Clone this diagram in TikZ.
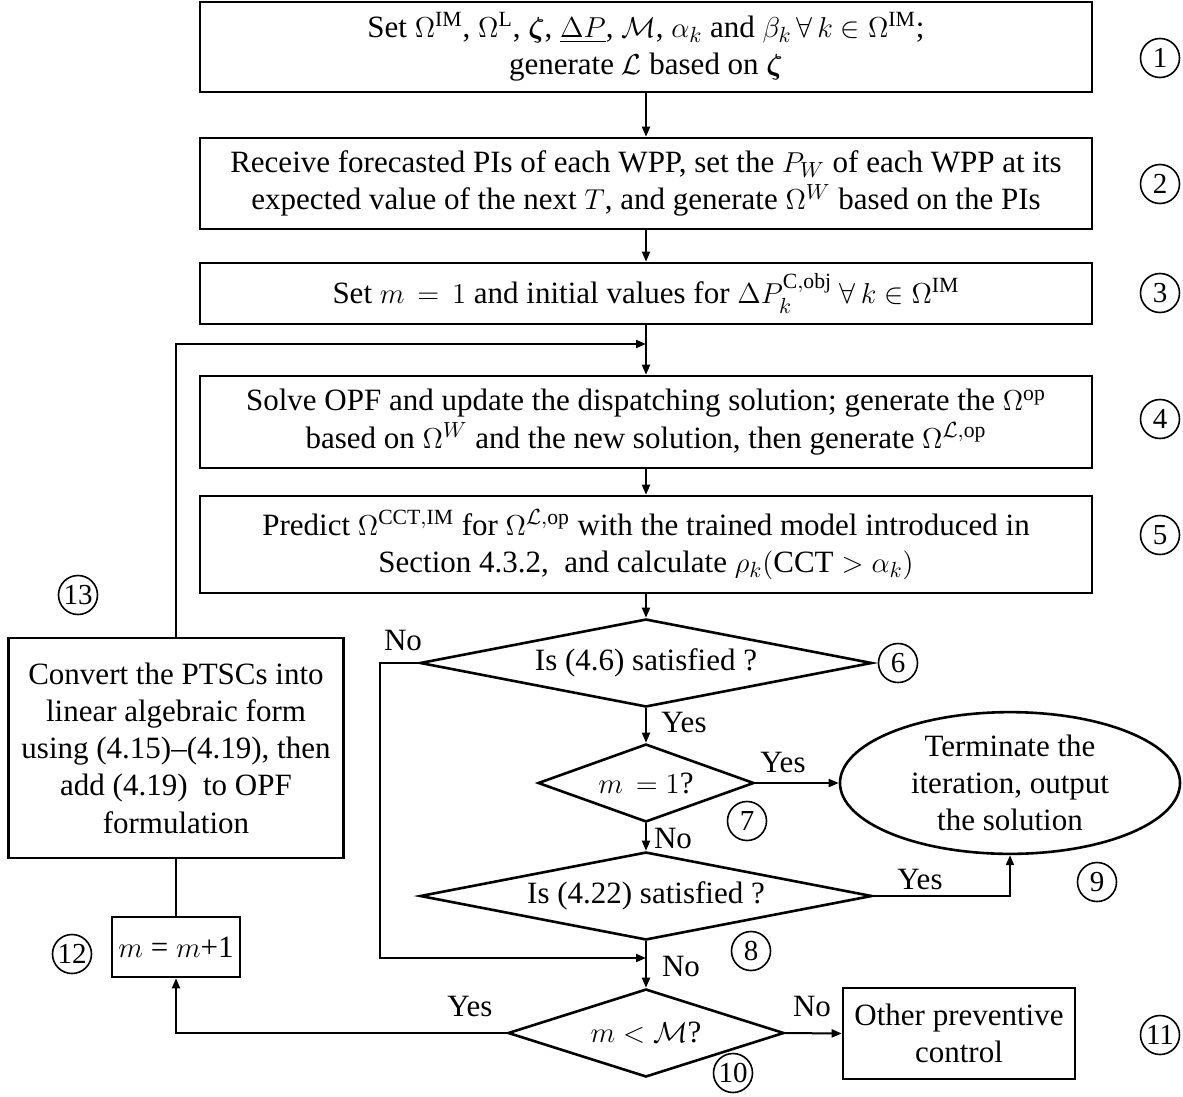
\documentclass[tikz,border=0pt]{standalone}
\usepackage{amsmath,amssymb,bm}
\usepackage{fontspec}
\setmainfont{Liberation Serif}
\usetikzlibrary{shapes.geometric,arrows.meta}

\begin{document}
\begin{tikzpicture}[x=0.5pt,y=0.5pt,
  font=\fontsize{15.5}{18.6}\selectfont,
  stepbox/.style={draw, line width=1.3pt, rectangle, align=center, inner sep=2pt},
  decision/.style={draw, line width=1.3pt, diamond, align=center, inner sep=1pt},
  endnode/.style={draw, line width=1.3pt, ellipse, align=center, inner sep=1pt},
  num/.style={draw, circle, line width=0.8pt, inner sep=0pt, minimum size=19.5pt,
    font=\fontsize{14.5}{14.5}\selectfont},
  flow/.style={line width=1pt, -{Triangle[length=5pt,width=4pt]}},
  link/.style={line width=1pt},
  lbl/.style={inner sep=0pt}
]
\useasboundingbox (0,0) rectangle (1183,-1097);

% main column of steps
\node[stepbox, minimum width=446pt, minimum height=45pt] (b1) at (646,-47)
  {Set $\Omega^{\mathrm{IM}}$, $\Omega^{\mathrm{L}}$, $\bm{\zeta}$, $\underline{\Delta P}$, $\mathcal{M}$, $\alpha_k$ and $\beta_k\,\forall\, k\in\Omega^{\mathrm{IM}}$;\\
   generate $\mathcal{L}$ based on $\bm{\zeta}$};
\node[stepbox, minimum width=446pt, minimum height=45.5pt] (b2) at (646,-183.5)
  {Receive forecasted PIs of each WPP, set the $P_W$ of each WPP at its\\
   expected value of the next $T$, and generate $\Omega^{W}$ based on the PIs};
\node[stepbox, minimum width=446pt, minimum height=30.5pt] (b3) at (646,-293.5)
  {Set $m\,=\,1$ and initial values for $\Delta P_k^{\mathrm{C,obj}}\ \forall\, k\in\Omega^{\mathrm{IM}}$};
\node[stepbox, minimum width=446pt, minimum height=46pt] (b4) at (646,-422)
  {Solve OPF and update the dispatching solution; generate the $\Omega^{\mathrm{op}}$\\
   based on $\Omega^{W}$ and the new solution, then generate $\Omega^{\mathcal{L},\mathrm{op}}$};
\node[stepbox, minimum width=446pt, minimum height=48.5pt] (b5) at (646,-544.5)
  {Predict $\Omega^{\mathrm{CCT,IM}}$ for $\Omega^{\mathcal{L},\mathrm{op}}$ with the trained model introduced in\\
   Section 4.3.2,\ \ and calculate $\rho_k(\mathrm{CCT}>\alpha_k)$};

% decisions
\node[decision, aspect=5.2, minimum width=226pt, minimum height=44pt] (d6) at (646,-663) {Is (4.6) satisfied ?};
\node[decision, aspect=2.8, minimum width=108pt, minimum height=39pt] (d7) at (646,-783) {$m\,=1$?};
\node[decision, aspect=5.1, minimum width=226pt, minimum height=44pt] (d8) at (646,-896) {Is (4.22) satisfied ?};
\node[decision, aspect=3.1, minimum width=138pt, minimum height=44pt] (d10) at (646,-1033) {$m<\mathcal{M}$?};

% end states
\node[endnode, minimum width=170pt, minimum height=70pt] (e9) at (1010,-783)
  {Terminate the\\iteration, output\\the solution};
\node[stepbox, minimum width=116pt, minimum height=45.5pt] (b11) at (959,-1033.5)
  {Other preventive\\control};

% feedback branch
\node[stepbox, minimum width=64pt, minimum height=30pt] (b12) at (176,-947) {$m$ = $m$+1};
\node[stepbox, minimum width=167.5pt, minimum height=110pt] (b13) at (176,-748)
  {Convert the PTSCs into\\linear algebraic form\\using (4.15)--(4.19), then\\add (4.19)\ \ to OPF\\formulation};

% junctions
\coordinate (J) at (646,-344);
\coordinate (K) at (646,-958);
\coordinate (nofork) at (380,-663);

% connectors
\draw[flow] (b1.south) -- (b2.north);
\draw[flow] (b2.south) -- (b3.north);
\draw[flow] (b3.south) -- (b4.north);
\draw[flow] (b13.north) |- (J);
\draw[flow] (b4.south) -- (b5.north);
\draw[flow] (b5.south) -- (d6.north);
\draw[flow] (d6.south) -- (d7.north);
\draw[flow] (d7.east) -- (e9.west);
\draw[flow] (d7.south) -- (d8.north);
\draw[flow] (d8.east) -| (e9.south);
\draw[flow] (d6.west) -- (nofork) |- (K);
\draw[flow] (d8.south) -- (d10.north);
\draw[flow] (d10.west) -| (b12.south);
\draw[flow] (d10.east) -- (b11.west);
\draw[link] (b12.north) -- (b13.south);

% branch labels
\node[lbl] (tNo1) at (403,-640) {No};
\node[lbl] (tYes1) at (684,-722) {Yes};
\node[lbl] (tYes2) at (783,-762) {Yes};
\node[lbl] (tNo2) at (673,-838) {No};
\node[lbl] (tYes3) at (920,-879) {Yes};
\node[lbl] (tNo3) at (681,-966) {No};
\node[lbl] (tYes4) at (470,-1006) {Yes};
\node[lbl] (tNo4) at (812,-1006) {No};

% step numbers
\node[num] (c1) at (1160,-58) {1};
\node[num] (c2) at (1160,-184) {2};
\node[num] (c3) at (1160,-293) {3};
\node[num] (c4) at (1160,-419) {4};
\node[num] (c5) at (1160,-535) {5};
\node[num] (c6) at (898,-663) {6};
\node[num] (c7) at (747,-821) {7};
\node[num] (c8) at (751,-951) {8};
\node[num] (c9) at (1097,-882) {9};
\node[num] (c10) at (733,-1073) {10};
\node[num] (c11) at (1160,-1035) {11};
\node[num] (c12) at (72,-954) {12};
\node[num] (c13) at (78,-595) {13};
\end{tikzpicture}
\end{document}
